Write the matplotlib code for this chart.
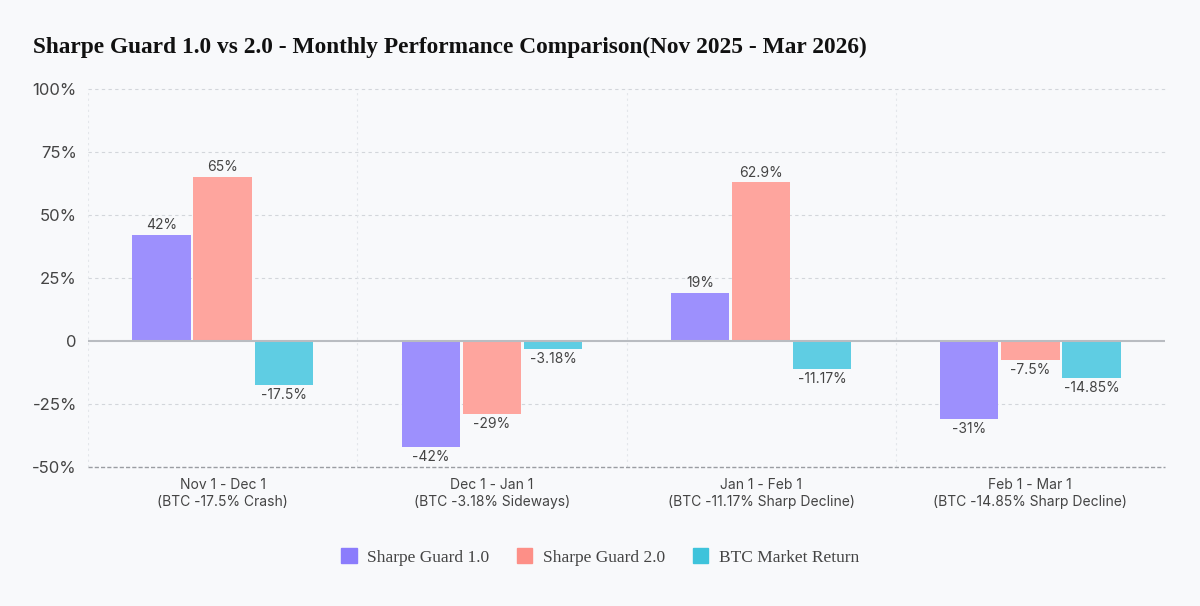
import matplotlib.pyplot as plt
import numpy as np

# data
categories = ['Nov 1 - Dec 1\n(BTC -17.5% Crash)',
              'Dec 1 - Jan 1\n(BTC -3.18% Sideways)',
              'Jan 1 - Feb 1\n(BTC -11.17% Sharp Decline)',
              'Feb 1 - Mar 1\n(BTC -14.85% Sharp Decline)']
guard_v1 = [42, -42, 19, -31]
guard_v2 = [65, -29, 62.9, -7.5]
btc_return = [-17.5, -3.18, -11.17, -14.85]
series_names = ['Sharpe Guard 1.0', 'Sharpe Guard 2.0', 'BTC Market Return']
y_ticks = [-50, -25, 0, 25, 50, 75, 100]

bar_colors = ['#9d90fd', '#fea59e', '#5fcde3']
legend_colors = ['#8b7cfc', '#fd8f87', '#3ec3db']
bg = '#f8f9fb'

fig = plt.figure(figsize=(12, 6.06), dpi=100, facecolor=bg)
ax = fig.add_axes([88 / 1200, 1 - 467 / 606, 1077 / 1200, 378 / 606])
ax.set_facecolor(bg)

x = np.arange(len(categories))
w = 0.217
off = 0.227
all_series = [guard_v1, guard_v2, btc_return]
for i, vals in enumerate(all_series):
    bars = ax.bar(x + (i - 1) * off, vals, width=w, color=bar_colors[i], zorder=3)
    for b, v in zip(bars, vals):
        lbl = f'{v:g}%'
        if v >= 0:
            ax.annotate(lbl, (b.get_x() + b.get_width() / 2, v), xytext=(0, 2),
                        textcoords='offset points', ha='center', va='bottom',
                        fontsize=10, color='#444444', family='Inter', zorder=4)
        else:
            ax.annotate(lbl, (b.get_x() + b.get_width() / 2, v), xytext=(0, -2),
                        textcoords='offset points', ha='center', va='top',
                        fontsize=10, color='#444444', family='Inter', zorder=4)

ax.set_xlim(-0.5, len(categories) - 0.5)
ax.set_ylim(-50, 100)
ax.set_yticks(y_ticks)
ax.set_yticklabels(['0' if t == 0 else f'{t}%' for t in y_ticks],
                   family='Inter', fontsize=12, color='#444444')
ax.set_xticks(x)
ax.set_xticklabels(categories, family='Inter', fontsize=10, color='#444444', linespacing=1.3)
ax.tick_params(axis='both', length=0)
ax.tick_params(axis='y', pad=8)
ax.tick_params(axis='x', pad=8)

for t in y_ticks[1:]:
    if t != 0:
        ax.axhline(t, color='#d3d6db', lw=0.8, ls=(0, (3, 3)), zorder=1, clip_on=False)
for b in [-0.5, 0.5, 1.5, 2.5]:
    ax.axvline(b, color='#e3e6ea', lw=0.8, ls=(0, (2, 3)), zorder=1)
ax.axhline(0, color='#b9bcc1', lw=1.5, zorder=4)
ax.axhline(-50, color='#9a9da2', lw=1, ls=(0, (3, 1.5)), zorder=4, clip_on=False)

for s in ax.spines.values():
    s.set_visible(False)

fig.text(33 / 1200, 1 - 47 / 606, 'Sharpe Guard 1.0 vs 2.0 - Monthly Performance Comparison(Nov 2025 - Mar 2026)',
         family='Liberation Serif', fontweight='bold', fontsize=16.8, color='#111111', va='center')

handles = [plt.Rectangle((0, 0), 1, 1, color=c) for c in legend_colors]
fig.legend(handles, series_names, loc='center', bbox_to_anchor=(600 / 1200, 1 - 557 / 606),
           ncol=3, frameon=False, prop={'family': 'Liberation Serif', 'size': 12.5},
           handlelength=0.9, handleheight=0.9, columnspacing=1.6, handletextpad=0.6,
           labelcolor='#444444')

plt.savefig('out.png', dpi=100, facecolor=bg)
